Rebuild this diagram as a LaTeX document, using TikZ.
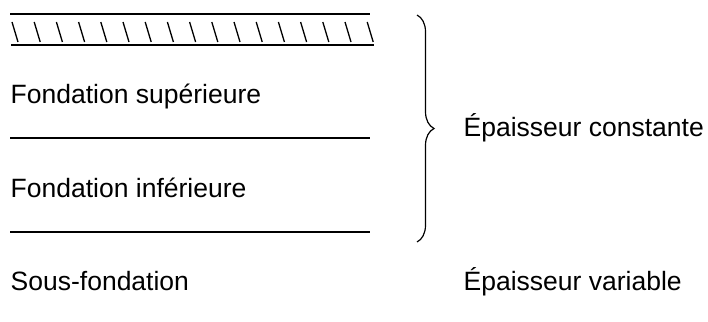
\documentclass[tikz,border=0pt]{standalone}
\usepackage{fontspec}
\setmainfont{Liberation Sans}
\usetikzlibrary{decorations.pathreplacing}

\begin{document}
\begin{tikzpicture}[x=1pt, y=-1pt, line width=1.4pt,
    layertext/.style={anchor=base west, inner sep=0pt, font=\fontsize{26.5}{31}\selectfont}]
        \useasboundingbox (0,0) rectangle (708,321);

        % surface with hatching
        \draw (10,14) -- (370,14);
        \draw (11,45) -- (374,45);
        \foreach \i in {0,...,16}
            \draw[line width=1.3pt] ({12+22.2*\i},22) -- ++(6,20);

        % layers
        \draw (10,138) -- (370,138);
        \draw (10,232) -- (370,232);

        \node[layertext] (sup) at (10,103) {Fondation supérieure};
        \node[layertext] (inf) at (10,197) {Fondation inférieure};
        \node[layertext] (sous) at (10,290) {Sous-fondation};

        % brace
        \draw[line width=1.2pt, decorate, decoration={brace, amplitude=17pt}] (417,15) -- (417,242);

        \node[layertext] (cst) at (463,136) {Épaisseur constante};
        \node[layertext] (var) at (463,290) {Épaisseur variable};
\end{tikzpicture}
\end{document}
